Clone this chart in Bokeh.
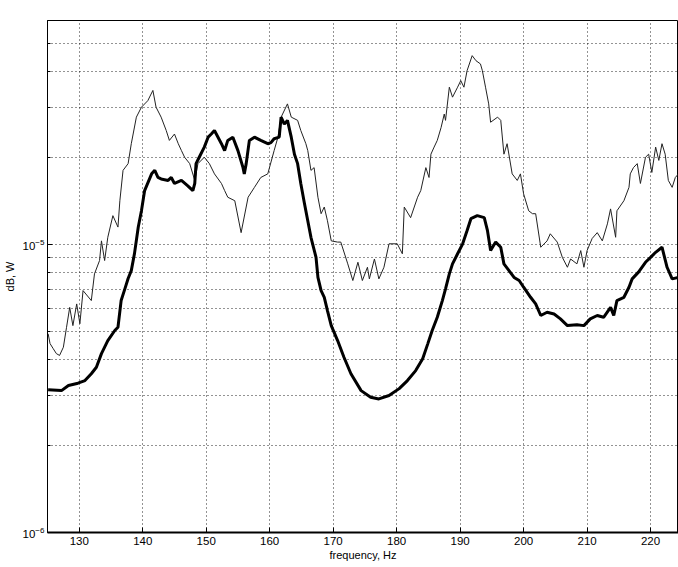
from bokeh.plotting import figure
from bokeh.models import FixedTicker
from bokeh.embed import file_html
from bokeh.resources import INLINE

# ---- data (frequency in Hz, power in units of 1e-6 W) ----
thick_freq = [125.1, 127.2, 128.3, 129.8, 130.9, 131.9, 132.7, 133.5, 134.5, 135.6,
              136.1, 136.6, 137.2, 137.7, 138.2, 138.7, 139.3, 139.8, 140.3, 141.4,
              141.9, 142.4, 142.9, 144.0, 144.5, 145.0, 146.1, 147.1, 147.9, 148.2,
              148.4, 148.9, 149.7, 150.3, 150.8, 151.3, 152.4, 152.9, 153.4, 154.2,
              155.0, 155.8, 156.0, 156.3, 156.8, 157.6, 158.6, 159.7, 160.2, 160.7,
              161.5, 161.8, 162.3, 162.8, 163.4, 163.9, 164.4, 164.9, 165.5, 166.0,
              166.5, 167.3, 167.6, 168.1, 168.6, 169.1, 169.7, 170.7, 171.7, 172.8,
              174.4, 175.9, 177.2, 178.8, 180.4, 181.7, 183.0, 184.1, 184.9, 185.6,
              186.4, 187.2, 187.7, 188.3, 188.8, 189.6, 190.4, 191.1, 191.7, 192.7,
              193.8, 194.3, 194.8, 195.6, 196.4, 196.9, 197.7, 198.5, 199.3, 200.0,
              201.1, 201.9, 202.7, 203.7, 204.8, 205.8, 206.9, 208.4, 209.5, 210.5,
              211.6, 212.6, 213.7, 214.2, 214.7, 215.8, 216.6, 217.1, 218.1, 219.2,
              220.0, 220.8, 221.8, 222.6, 223.4, 224.4]
thick_power_u = [3.13, 3.11, 3.24, 3.30, 3.37, 3.56, 3.75, 4.18, 4.64, 5.03,
                 5.16, 6.39, 7.03, 7.62, 8.12, 9.30, 11.5, 13.1, 15.4, 17.6,
                 18.1, 17.1, 16.9, 16.7, 17.1, 16.3, 16.7, 16.0, 15.4, 16.3,
                 19.1, 20.1, 21.8, 23.6, 24.2, 24.9, 22.4, 21.2, 23.0, 23.6,
                 21.2, 18.5, 17.6, 19.1, 23.0, 23.6, 23.0, 22.4, 22.6, 23.3,
                 23.6, 27.7, 26.2, 27.0, 23.6, 20.6, 19.1, 16.3, 13.8, 12.1,
                 10.6, 9.03, 7.69, 6.92, 6.56, 5.90, 5.23, 4.64, 4.06, 3.56,
                 3.11, 2.95, 2.91, 2.99, 3.16, 3.37, 3.65, 4.01, 4.52, 5.03,
                 5.59, 6.39, 7.02, 7.91, 8.57, 9.29, 10.06, 11.19, 12.3, 12.6,
                 12.4, 11.2, 9.53, 10.2, 9.79, 8.57, 8.12, 7.69, 7.50, 7.11,
                 6.56, 6.22, 5.67, 5.82, 5.74, 5.52, 5.23, 5.27, 5.23, 5.52,
                 5.67, 5.59, 6.05, 5.67, 6.39, 6.56, 7.11, 7.60, 8.02, 8.68,
                 9.03, 9.40, 9.79, 8.34, 7.60, 7.69]

thin_freq = [125.1, 125.4, 125.9, 126.4, 126.9, 127.5, 128.0, 128.5, 129.0, 129.6,
             130.1, 130.6, 131.9, 132.4, 133.2, 133.5, 134.0, 134.5, 135.3, 136.1,
             136.4, 136.9, 137.7, 138.2, 139.0, 139.8, 140.8, 141.6, 142.1, 142.9,
             143.7, 144.2, 145.0, 145.6, 146.1, 146.6, 147.4, 148.2, 148.7, 149.7,
             150.5, 151.3, 152.4, 152.9, 153.4, 154.5, 155.5, 156.6, 157.6, 158.6,
             159.7, 160.7, 161.3, 161.8, 162.8, 163.4, 164.4, 164.9, 165.7, 166.0,
             166.5, 167.0, 167.6, 168.1, 168.6, 169.1, 169.7, 170.7, 171.2, 172.3,
             173.1, 173.9, 174.6, 175.4, 175.7, 176.5, 177.2, 178.0, 178.8, 180.1,
             180.9, 181.2, 182.2, 183.3, 183.8, 184.6, 185.1, 185.4, 185.9, 186.4,
             187.0, 187.5, 187.7, 188.3, 188.8, 189.6, 190.1, 190.6, 191.1, 191.9,
             192.5, 193.2, 193.5, 194.0, 194.5, 194.8, 195.9, 196.4, 196.9, 197.4,
             198.2, 199.0, 199.5, 200.0, 200.8, 201.4, 201.9, 202.7, 203.7, 204.2,
             205.3, 206.1, 206.9, 207.4, 208.4, 209.0, 209.5, 210.0, 210.8, 211.6,
             212.4, 213.2, 213.7, 214.5, 214.7, 215.8, 216.6, 216.8, 217.3, 217.9,
             218.4, 219.2, 219.7, 220.2, 220.8, 221.3, 221.8, 222.3, 222.8, 223.4,
             223.9, 224.4]
thin_power_u = [4.90, 4.53, 4.35, 4.18, 4.12, 4.40, 5.16, 6.05, 5.23, 6.22,
                5.31, 6.92, 6.39, 7.91, 8.80, 10.3, 8.80, 10.6, 12.6, 11.5,
                14.2, 18.1, 19.1, 22.4, 27.7, 30.0, 31.6, 34.3, 30.0, 27.7,
                24.9, 23.0, 24.2, 22.4, 21.2, 20.1, 19.1, 16.7, 19.1, 20.1,
                19.1, 17.6, 16.3, 15.4, 14.6, 14.2, 11.0, 14.6, 15.8, 17.1,
                17.6, 21.2, 23.6, 27.7, 30.8, 27.7, 27.0, 24.9, 22.4, 21.2,
                18.1, 18.5, 14.6, 12.8, 13.5, 12.1, 10.3, 10.2, 10.2, 8.57,
                7.50, 8.68, 7.50, 8.34, 7.60, 8.91, 7.60, 8.34, 10.06, 10.06,
                9.29, 13.5, 12.4, 14.6, 15.4, 18.5, 17.1, 20.6, 21.8, 23.0,
                25.5, 28.4, 27.0, 35.2, 32.5, 35.2, 37.1, 35.2, 40.2, 45.3,
                43.5, 42.4, 40.2, 35.2, 30.8, 26.6, 27.7, 27.0, 20.6, 22.4,
                17.6, 16.7, 17.6, 15.0, 13.1, 12.8, 12.8, 9.79, 10.3, 10.9,
                10.2, 9.03, 8.34, 8.91, 8.57, 9.53, 8.34, 9.53, 10.5, 11.0,
                10.3, 11.8, 13.3, 10.6, 13.1, 14.2, 15.8, 17.6, 18.5, 19.1,
                16.3, 20.1, 20.6, 17.8, 21.8, 19.6, 22.4, 20.6, 16.7, 15.8,
                17.1, 17.6]

UNIT = 1e-6
thick_power = [v * UNIT for v in thick_power_u]
thin_power = [v * UNIT for v in thin_power_u]

x_ticks = [130, 140, 150, 160, 170, 180, 190, 200, 210, 220]
y_major = [1e-6, 1e-5]
y_minor = [2e-6, 3e-6, 4e-6, 5e-6, 6e-6, 7e-6, 8e-6, 9e-6,
           2e-5, 3e-5, 4e-5, 5e-5, 6e-5]

FONT = "Liberation Sans"

p = figure(width=678, height=567, x_range=(125, 224.4), y_range=(1e-6, 6e-5),
           y_axis_type="log", output_backend="svg", toolbar_location=None,
           min_border_left=46, min_border_right=0, min_border_top=20,
           min_border_bottom=35)

p.background_fill_color = "white"
p.border_fill_color = "white"
p.outline_line_color = "black"
p.outline_line_width = 1

# axes
p.xaxis.ticker = FixedTicker(ticks=x_ticks)
p.yaxis.ticker = FixedTicker(ticks=y_major, minor_ticks=y_minor)

for ax in (p.xaxis[0], p.yaxis[0]):
    ax.major_tick_in = 5
    ax.major_tick_out = 0
    ax.minor_tick_in = 3
    ax.minor_tick_out = 0
    ax.axis_line_color = "black"
    ax.major_tick_line_color = "black"
    ax.minor_tick_line_color = "black"
    ax.major_label_text_font = FONT
    ax.major_label_text_font_size = "11.5px"
    ax.major_label_text_color = "black"
    ax.axis_label_text_font = FONT
    ax.axis_label_text_font_size = "11px"
    ax.axis_label_text_font_style = "normal"
    ax.axis_label_text_color = "black"

p.xaxis.major_label_standoff = 4
p.xaxis.axis_label_standoff = 1
p.xaxis.axis_label = "frequency, Hz"
p.xaxis.axis_line_width = 2
p.yaxis.major_label_standoff = 3
p.yaxis.axis_label_standoff = 4
p.yaxis.axis_label = "dB, W"

# grid
for g in (p.xgrid[0], p.ygrid[0]):
    g.grid_line_color = "black"
    g.grid_line_dash = "1 3"
    g.grid_line_width = 1
    g.grid_line_alpha = 0.85
p.ygrid.minor_grid_line_color = "black"
p.ygrid.minor_grid_line_dash = "1 3"
p.ygrid.minor_grid_line_alpha = 0.85

# lines
p.line(thin_freq, thin_power, line_color="#222222", line_width=1)
p.line(thick_freq, thick_power, line_color="black", line_width=3)

open("out.html", "w").write(file_html(p, INLINE))
